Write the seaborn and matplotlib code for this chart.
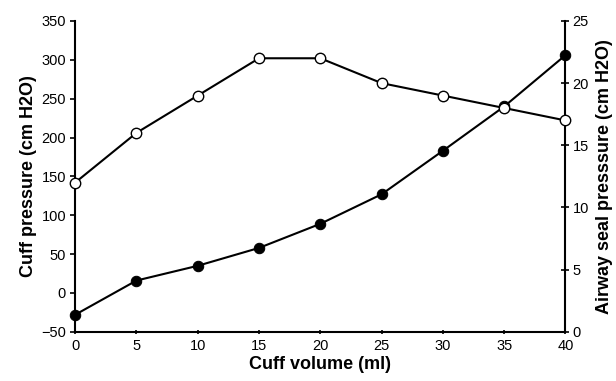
import pandas as pd
import seaborn as sns
import matplotlib.pyplot as plt

# values
CUFF_VOLUME = [0, 5, 10, 15, 20, 25, 30, 35, 40]
CUFF_PRESSURE = [-28, 16, 35, 58, 89, 127, 183, 240, 306]
SEAL_PRESSURE = [12, 16, 19, 22, 22, 20, 19, 18, 17]

LEFT_TICKS = [-50, 0, 50, 100, 150, 200, 250, 300, 350]
RIGHT_TICKS = [0, 5, 10, 15, 20, 25]

DATA = pd.DataFrame({'volume': CUFF_VOLUME,
                     'cuff': CUFF_PRESSURE,
                     'seal': SEAL_PRESSURE})

sns.set_style('ticks')
plt.rcParams['font.family'] = ['Liberation Sans', 'DejaVu Sans']
plt.rcParams['text.color'] = 'black'
plt.rcParams['axes.labelcolor'] = 'black'

fig = plt.figure(figsize=(6.16, 3.81), dpi=100)
AX = fig.add_axes([0.122, 0.129, 0.796, 0.816])
AX2 = AX.twinx()

# cuff pressure - filled circles, left axis
sns.lineplot(data=DATA, x='volume', y='cuff', ax=AX, color='black',
             linewidth=1.5, marker='o', markersize=7.5,
             markerfacecolor='black', markeredgecolor='black', clip_on=False)
# airway seal pressure - open circles, right axis
sns.lineplot(data=DATA, x='volume', y='seal', ax=AX2, color='black',
             linewidth=1.5, marker='o', markersize=7.5,
             markerfacecolor='white', markeredgecolor='black',
             markeredgewidth=1.0, clip_on=False, zorder=5)

AX.set_xlim(0, 40)
AX.set_xticks(CUFF_VOLUME)
AX.set_ylim(-50, 350)
AX.set_yticks(LEFT_TICKS)
AX2.set_ylim(0, 25)
AX2.set_yticks(RIGHT_TICKS)

AX.set_xlabel('Cuff volume (ml)', fontsize=13, fontweight='bold', labelpad=2)
AX.set_ylabel('Cuff pressure (cm H2O)', fontsize=13, fontweight='bold', labelpad=3)
AX2.set_ylabel('Airway seal presssure (cm H2O)', fontsize=13,
               fontweight='bold', labelpad=5)

for a in (AX, AX2):
    a.spines['top'].set_visible(False)
    for s in a.spines.values():
        s.set_linewidth(1.5)
        s.set_color('black')
AX.spines['right'].set_visible(False)
AX2.spines['left'].set_visible(False)
AX2.spines['bottom'].set_visible(False)

AX.tick_params(axis='y', labelsize=10.5, length=3.5, width=1.2, direction='out',
               colors='black', pad=3)
AX.tick_params(axis='x', labelsize=10.5, length=3, width=1.2, direction='inout',
               colors='black', pad=4)
AX2.tick_params(axis='y', labelsize=10.5, length=6, width=1.2, direction='inout',
                colors='black', pad=2)

fig.savefig('out.png', dpi=100)
